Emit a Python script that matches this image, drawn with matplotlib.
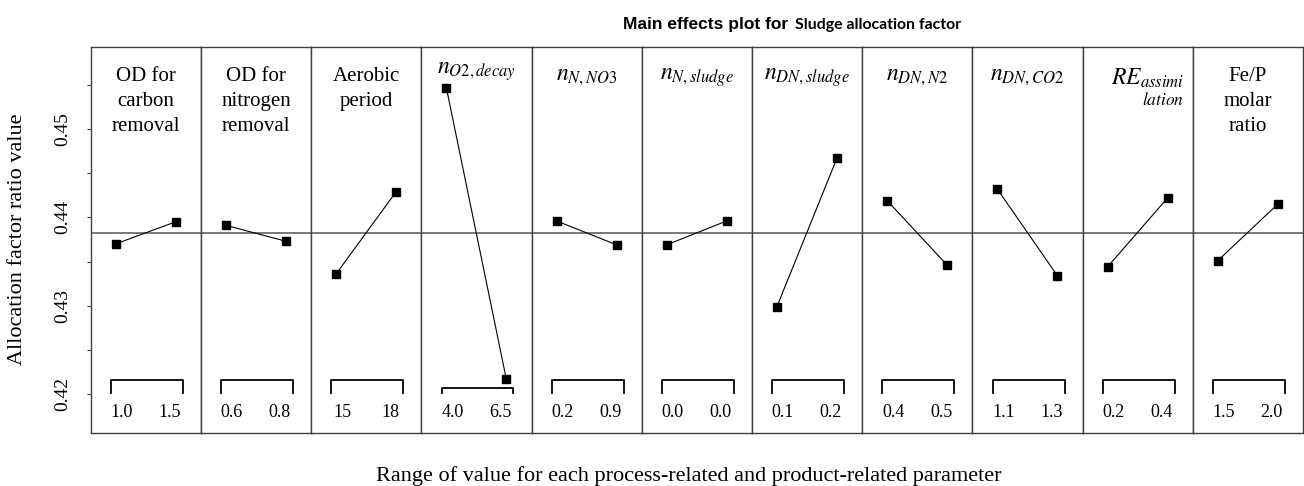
"""
Main effects plot for the sludge allocation factor: one small panel per
parameter, low/high level mean joined by a line, grand mean drawn across.
"""

import numpy as np
import matplotlib
matplotlib.use('Agg')
import matplotlib.pyplot as plt

# --- DATA ---
panel_labels = [
    'OD for\ncarbon\nremoval',
    'OD for\nnitrogen\nremoval',
    'Aerobic\nperiod',
    r'$n_{O2,decay}$',
    r'$n_{N,NO3}$',
    r'$n_{N,sludge}$',
    r'$n_{DN,sludge}$',
    r'$n_{DN,N2}$',
    r'$n_{DN,CO2}$',
    r'$RE_{assimi}$',
    'Fe/P\nmolar\nratio',
]
low_labels = ['1.0', '0.6', '15', '4.0', '0.2', '0.0', '0.1', '0.4', '1.1', '0.2', '1.5']
high_labels = ['1.5', '0.8', '18', '6.5', '0.9', '0.0', '0.2', '0.5', '1.3', '0.4', '2.0']
low_means = [0.4370, 0.4391, 0.4336, 0.4547, 0.4396, 0.4369, 0.4299, 0.4419, 0.4432, 0.4344, 0.4351]
high_means = [0.4395, 0.4373, 0.4429, 0.4217, 0.4369, 0.4396, 0.4467, 0.4346, 0.4334, 0.4422, 0.4415]

y_ticks = [0.420, 0.425, 0.430, 0.435, 0.440, 0.445, 0.450, 0.455]

grand_mean = np.mean(low_means + high_means)

plt.rcParams['font.family'] = ['Liberation Serif', 'DejaVu Serif']
plt.rcParams['mathtext.fontset'] = 'stix'

W, H = 1304, 486
fig = plt.figure(figsize=(W / 100, H / 100), dpi=100)
axes = fig.subplots(1, len(panel_labels), sharey=True)
fig.subplots_adjust(left=90.7 / W, right=1303 / W, top=1 - 47 / H, bottom=1 - 433 / H, wspace=0)

frame_col = '#404040'

for i, ax in enumerate(axes):
    ax.plot([1, 2], [low_means[i], high_means[i]], color='black', lw=0.8,
            marker='s', ms=5.5, mfc='black', mec='black')
    ax.axhline(grand_mean, color='#555555', lw=1.1, zorder=1)
    ax.set_xlim(0.583, 2.421)
    ax.set_ylim(0.41558, 0.4593)
    ax.set_xticks([])
    for sp in ax.spines.values():
        sp.set_color(frame_col)
        sp.set_linewidth(1.0)

    trans = ax.get_xaxis_transform()
    # bracket marking the two levels
    top = 0.117 if i == 3 else 0.137
    ax.plot([0.92, 0.92, 2.12, 2.12], [0.104, top, top, 0.104], color='black',
            lw=1.3, transform=trans, solid_joinstyle='round', clip_on=False)
    ax.text(1.1, 0.052, low_labels[i], transform=trans, ha='center', va='center', fontsize=13)
    ax.text(1.9, 0.052, high_labels[i], transform=trans, ha='center', va='center', fontsize=13)

    # panel heading
    label = panel_labels[i]
    if label.startswith('$'):
        if i == 9:
            ax.text(0.92, 0.92, label, transform=ax.transAxes, ha='right', va='center', fontsize=17)
            ax.text(0.92, 0.862, r'$\mathit{lation}$', transform=ax.transAxes,
                    ha='right', va='center', fontsize=12.5)
        else:
            ypos = 0.935 if i == 3 else 0.92
            ax.text(0.5, ypos, label, transform=ax.transAxes, ha='center', va='center', fontsize=17)
    else:
        ax.text(0.5, 0.948, label, transform=ax.transAxes, ha='center', va='top',
                fontsize=15, linespacing=1.42)

    if i > 0:
        ax.tick_params(axis='y', length=0)

ax0 = axes[0]
ax0.set_yticks(y_ticks)
ax0.set_yticklabels([f'{v:.2f}' if k % 2 == 0 else '' for k, v in enumerate(y_ticks)],
                    rotation=90, va='center', fontsize=14)
ax0.tick_params(axis='y', length=3, pad=11, color=frame_col)

fig.text(18 / W, 1 - 239 / H, 'Allocation factor ratio value', rotation=90,
         ha='center', va='center', fontsize=16)
fig.text(689 / W, 1 - 476 / H, 'Range of value for each process-related and product-related parameter',
         ha='center', va='center', fontsize=16)

# title in two fonts
fig.text(788 / W, 1 - 28.5 / H, 'Main effects plot for', ha='right', va='baseline',
         fontsize=12.5, fontweight='bold', family=['Liberation Sans', 'DejaVu Sans'])
fig.text(795 / W, 1 - 28.5 / H, 'Sludge allocation factor', ha='left', va='baseline',
         fontsize=11.4, fontweight='bold', family=['Lato', 'DejaVu Sans'])

plt.savefig('out.png', dpi=100)
